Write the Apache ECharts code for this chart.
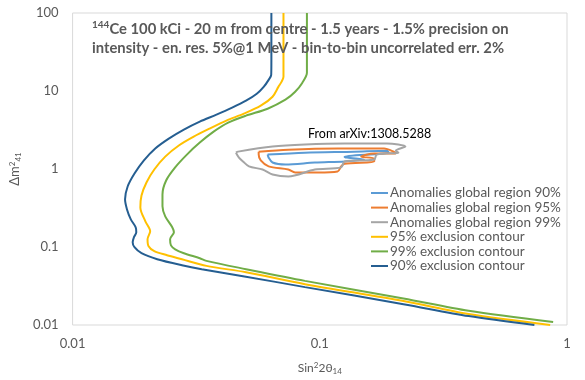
<!DOCTYPE html>
<html><head><meta charset="utf-8">
<script src="https://cdn.jsdelivr.net/npm/echarts@6/dist/echarts.min.js"></script>
<style>html,body{margin:0;padding:0;background:#fff}#c{width:585px;height:380px}</style>
</head><body><div id="c"></div>
<script>
// sin^2(2theta14), dm^2_41 pairs
const excl90 = [[0.0637,100],[0.0637,25.1],[0.0636,16.1],[0.0621,13.9],[0.0593,11.3],[0.0556,9.22],[0.0503,7.50],[0.0442,6.11],[0.0382,4.97],[0.0327,4.05],[0.0282,3.20],[0.0245,2.45],[0.0216,1.83],[0.0194,1.28],[0.0178,0.875],[0.0167,0.597],[0.0163,0.408],[0.0166,0.303],[0.0172,0.226],[0.0180,0.179],[0.0181,0.154],[0.0177,0.133],[0.0175,0.115],[0.0178,0.0993],[0.0190,0.0832],[0.0220,0.0697],[0.0277,0.0584],[0.0333,0.0520],[0.0489,0.0423],[0.0871,0.0306],[0.218,0.0185],[0.400,0.0130],[0.738,0.0100]];
const excl95 = [[0.0713,100],[0.0713,15.2],[0.0700,13.1],[0.0680,11.3],[0.0644,8.45],[0.0577,6.48],[0.0493,5.12],[0.0419,4.17],[0.0358,3.29],[0.0309,2.60],[0.0269,2.00],[0.0237,1.44],[0.0214,0.985],[0.0199,0.672],[0.0190,0.458],[0.0188,0.322],[0.0197,0.213],[0.0206,0.159],[0.0201,0.126],[0.0203,0.102],[0.0214,0.0883],[0.0241,0.0785],[0.0277,0.0697],[0.0348,0.0573],[0.0503,0.0475],[0.0871,0.0334],[0.218,0.0203],[0.400,0.0138],[0.855,0.0100]];
const excl99 = [[0.0887,100],[0.0887,17.1],[0.0849,12.7],[0.0795,9.78],[0.0726,7.73],[0.0615,5.93],[0.0503,4.83],[0.0426,3.93],[0.0372,3.01],[0.0327,2.18],[0.0290,1.53],[0.0260,1.05],[0.0239,0.713],[0.0231,0.472],[0.0231,0.332],[0.0237,0.247],[0.0253,0.179],[0.0257,0.154],[0.0248,0.126],[0.0250,0.105],[0.0260,0.0935],[0.0282,0.0832],[0.0327,0.0718],[0.0348,0.0664],[0.0503,0.0520],[0.0871,0.0368],[0.218,0.0219],[0.400,0.0152],[0.879,0.0109]];
const anom90 = [[0.0615,1.53],[0.0871,1.62],[0.138,1.67],[0.187,1.72],[0.190,1.62],[0.126,1.44],[0.129,1.40],[0.151,1.32],[0.126,1.25],[0.0955,1.21],[0.0726,1.14],[0.0644,1.21],[0.0621,1.40],[0.0615,1.53]];
const anom95 = [[0.0566,1.67],[0.0746,1.77],[0.118,1.83],[0.182,1.83],[0.199,1.67],[0.203,1.58],[0.166,1.58],[0.147,1.44],[0.166,1.36],[0.166,1.25],[0.126,1.17],[0.122,1.08],[0.118,0.929],[0.0982,0.902],[0.0795,0.902],[0.0746,0.985],[0.0621,1.08],[0.0577,1.29],[0.0566,1.53],[0.0566,1.67]];
const anom99 = [[0.0458,1.62],[0.0467,1.67],[0.0644,1.94],[0.0871,2.06],[0.126,2.12],[0.187,2.12],[0.222,1.94],[0.203,1.72],[0.208,1.62],[0.170,1.53],[0.166,1.32],[0.126,1.25],[0.122,1.05],[0.0955,0.985],[0.0746,0.802],[0.0644,0.851],[0.0587,0.985],[0.0517,1.08],[0.0489,1.25],[0.0471,1.40],[0.0458,1.62]];
const xTickLabels = ['0.01','0.1','1'];
const yTickLabels = ['0.01','0.1','1','10','100'];
const seriesNames = ['Anomalies global region 90%','Anomalies global region 95%','Anomalies global region 99%','95% exclusion contour','99% exclusion contour','90% exclusion contour'];

const F = 'Lato, "Liberation Sans", sans-serif';
const chart = echarts.init(document.getElementById('c'), null, {renderer:'canvas'});
function mk(name, data, color, smooth){
  return {name, type:'line', data, showSymbol:false, symbol:'none', smooth:smooth, animation:false,
    lineStyle:{color, width:2}, itemStyle:{color}};
}
chart.setOption({
  animation:false,
  backgroundColor:'#fff',
  title:{
    text:'{sup|144}Ce 100 kCi - 20 m from centre - 1.5 years - 1.5% precision on\nintensity - en. res. 5%@1 MeV - bin-to-bin uncorrelated err. 2%',
    left:87, top:15,
    textStyle:{fontFamily:F, fontSize:14.8, fontWeight:'bold', color:'#595959', lineHeight:19,
      rich:{sup:{fontFamily:F, fontSize:10, fontWeight:'bold', color:'#595959', verticalAlign:'top', lineHeight:19, padding:[0,0,8,0]}}}
  },
  grid:{left:64, right:18, top:13, bottom:54, show:true, borderColor:'#D9D9D9', borderWidth:1},
  legend:{
    orient:'vertical', left:366, top:181, itemWidth:17, itemHeight:2, itemGap:0.6, icon:'rect',
    data:seriesNames,
    textStyle:{fontFamily:F, fontSize:13.5, color:'#595959', lineHeight:14, padding:[0,0,0,-3]}
  },
  xAxis:{type:'log', logBase:10, min:0.01, max:1,
    axisLine:{show:false}, axisTick:{show:false}, splitLine:{show:false},
    axisLabel:{fontFamily:F, fontSize:13, color:'#595959', margin:12,
      formatter:v=>xTickLabels[Math.round(Math.log10(v))+2]},
    name:'{a|Sin}{s|2}{a|2θ}{b|14}', nameLocation:'middle', nameGap:36,
    nameTextStyle:{rich:{a:{fontFamily:F,fontSize:12,color:'#595959'}, s:{fontFamily:F,fontSize:8,color:'#595959',verticalAlign:'top',padding:[0,0,6,0]}, b:{fontFamily:F,fontSize:8,color:'#595959',padding:[6,0,0,0]}}}
  },
  yAxis:{type:'log', logBase:10, min:0.01, max:100,
    axisLine:{show:false}, axisTick:{show:false}, splitLine:{show:false},
    axisLabel:{fontFamily:F, fontSize:13, color:'#595959', margin:14,
      formatter:v=>yTickLabels[Math.round(Math.log10(v))+2]},
    name:'{a|Δm}{s|2}{b|41}', nameLocation:'middle', nameGap:34, nameRotate:90,
    nameTextStyle:{rich:{a:{fontFamily:F,fontSize:13,color:'#595959'}, s:{fontFamily:F,fontSize:8,color:'#595959',padding:[0,0,6,0]}, b:{fontFamily:F,fontSize:8,color:'#595959',padding:[6,0,0,0]}}}
  },
  graphic:[{type:'text', left:308, top:127, style:{text:'From arXiv:1308.5288', font:'12.5px '+F, fill:'#000'}}],
  series:[
    mk(seriesNames[0], anom90, '#5B9BD5', 0.3),
    mk(seriesNames[1], anom95, '#ED7D31', 0.3),
    mk(seriesNames[2], anom99, '#A5A5A5', 0.3),
    mk(seriesNames[3], excl95, '#FFC000', 0.3),
    mk(seriesNames[4], excl99, '#70AD47', 0.3),
    mk(seriesNames[5], excl90, '#255E91', 0.3)
  ]
});
</script></body></html>
